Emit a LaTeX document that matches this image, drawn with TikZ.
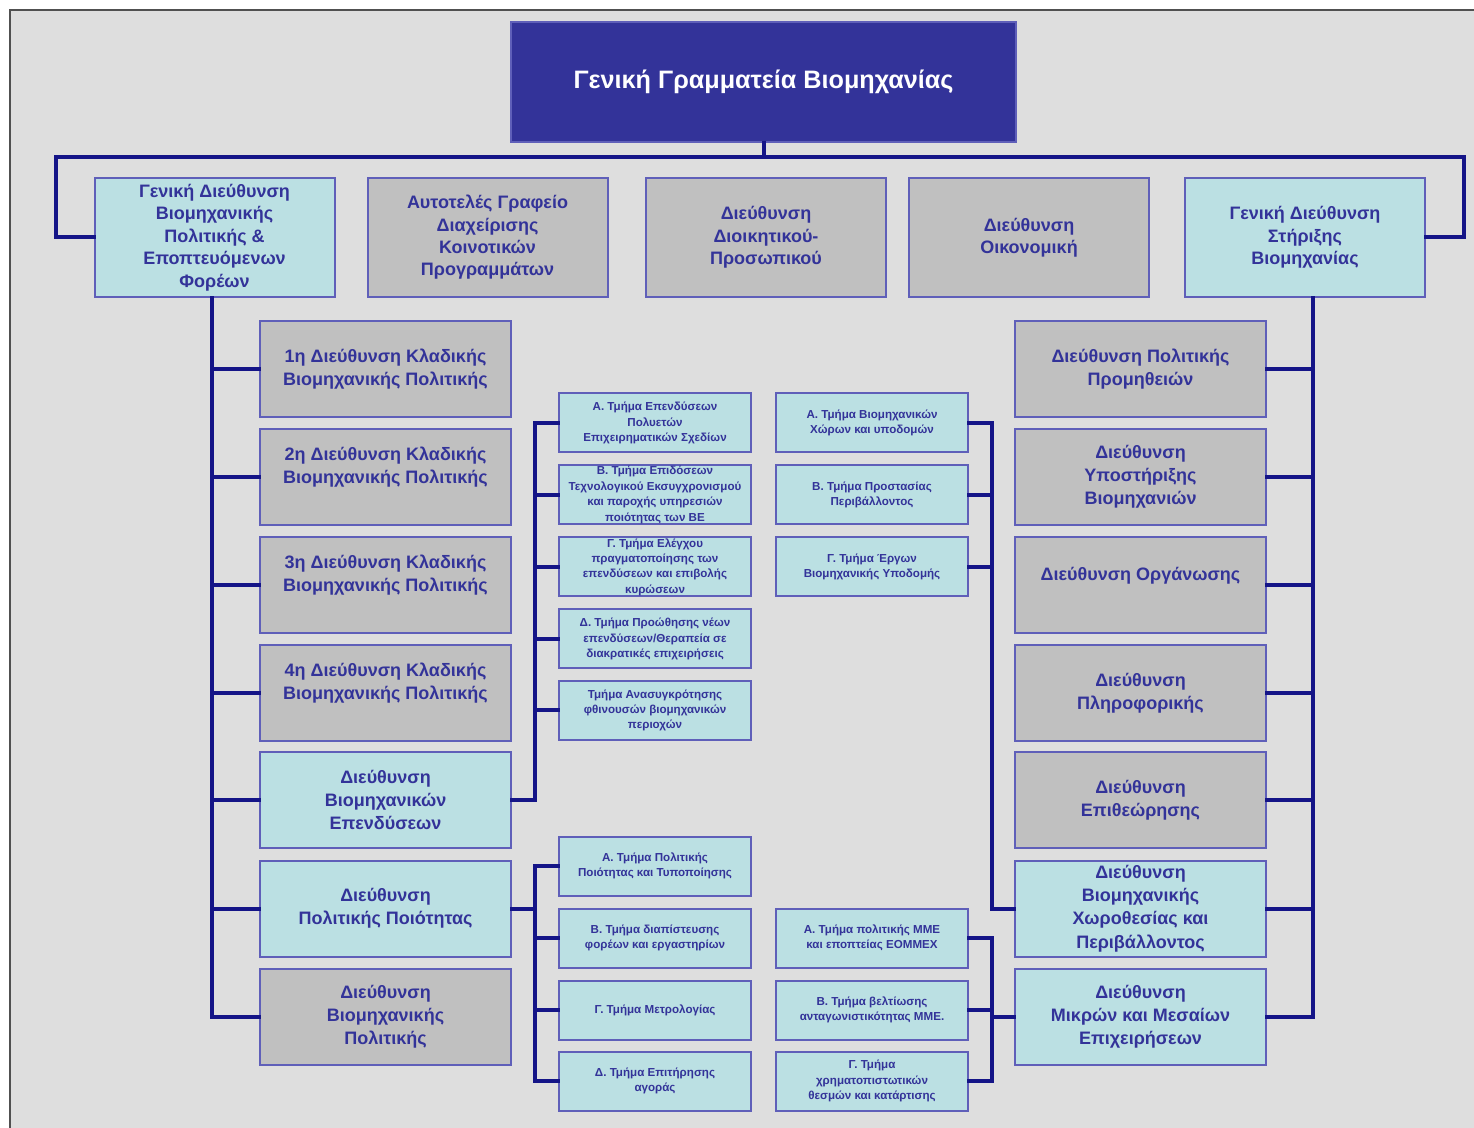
\documentclass[tikz,border=0pt]{standalone}
\usepackage{fontspec}
\setmainfont{Liberation Sans}
\definecolor{bgc}{RGB}{222,222,222}
\definecolor{lblue}{RGB}{187,224,227}
\definecolor{grayf}{RGB}{192,192,192}
\definecolor{navy}{RGB}{51,51,153}
\definecolor{bord}{RGB}{95,95,185}
\definecolor{linec}{RGB}{20,20,135}
\definecolor{txt}{RGB}{51,51,153}
\definecolor{frame}{RGB}{80,80,80}
\begin{document}
\begin{tikzpicture}[x=0.5pt,y=-0.5pt,
  box/.style={rectangle,draw=bord,line width=1pt,align=center,inner sep=0pt,text=txt},
  bluebox/.style={box,fill=lblue},
  graybox/.style={box,fill=grayf},
  rowtwo/.style={minimum width=120pt,minimum height=59.5pt,font=\bfseries\fontsize{9}{11.2}\selectfont},
  colbox/.style={minimum width=125.5pt,minimum height=48pt,font=\bfseries\fontsize{9}{11.6}\selectfont},
  smallbox/.style={bluebox,minimum width=96pt,minimum height=29.5pt,font=\bfseries\fontsize{5.8}{7.7}\selectfont},
  conn/.style={draw=linec,line width=2pt,line join=miter,line cap=rect}]
\useasboundingbox (0,0) rectangle (1474,1128);
\fill[white] (0,0) rectangle (1474,1128);
\filldraw[fill=bgc,draw=frame,line width=1pt] (10,10) rectangle (1500,1150);

% top
\node[box,fill=navy,draw=bord,minimum width=252.5pt,minimum height=60pt,text=white,font=\bfseries\fontsize{12.6}{15}\selectfont] (top) at (763.5,82) {Γενική Γραμματεία Βιομηχανίας};

% row two
\node[bluebox,rowtwo] (A) at (214.5,237.5) {Γενική Διεύθυνση\\Βιομηχανικής\\Πολιτικής \&\\Εποπτευόμενων\\Φορέων};
\node[graybox,rowtwo] (B) at (487.5,237.5) {Αυτοτελές Γραφείο\\Διαχείρισης\\Κοινοτικών\\Προγραμμάτων};
\node[graybox,rowtwo] (C) at (766,237.5) {Διεύθυνση\\Διοικητικού-\\Προσωπικού};
\node[graybox,rowtwo] (D) at (1029,237.5) {Διεύθυνση\\Οικονομική};
\node[bluebox,rowtwo] (E) at (1305,237.5) {Γενική Διεύθυνση\\Στήριξης\\Βιομηχανίας};

% left column
\node[graybox,colbox] (L1) at (385.5,369) {1η Διεύθυνση Κλαδικής\\Βιομηχανικής Πολιτικής};
\node[graybox,colbox] (L2) at (385.5,477) {2η Διεύθυνση Κλαδικής\\Βιομηχανικής Πολιτικής\\\mbox{}};
\node[graybox,colbox] (L3) at (385.5,585) {3η Διεύθυνση Κλαδικής\\Βιομηχανικής Πολιτικής\\\mbox{}};
\node[graybox,colbox] (L4) at (385.5,693) {4η Διεύθυνση Κλαδικής\\Βιομηχανικής Πολιτικής\\\mbox{}};
\node[bluebox,colbox] (L5) at (385.5,800) {Διεύθυνση\\Βιομηχανικών\\Επενδύσεων};
\node[bluebox,colbox] (L6) at (385.5,908.5) {Διεύθυνση\\Πολιτικής Ποιότητας};
\node[graybox,colbox] (L7) at (385.5,1016.5) {Διεύθυνση\\Βιομηχανικής\\Πολιτικής};

% right column
\node[graybox,colbox] (R1) at (1140.5,369) {Διεύθυνση Πολιτικής\\Προμηθειών};
\node[graybox,colbox] (R2) at (1140.5,477) {Διεύθυνση\\Υποστήριξης\\Βιομηχανιών};
\node[graybox,colbox] (R3) at (1140.5,585) {Διεύθυνση Οργάνωσης\\\mbox{}};
\node[graybox,colbox] (R4) at (1140.5,693) {Διεύθυνση\\Πληροφορικής};
\node[graybox,colbox] (R5) at (1140.5,800) {Διεύθυνση\\Επιθεώρησης};
\node[bluebox,colbox] (R6) at (1140.5,908.5) {Διεύθυνση\\Βιομηχανικής\\Χωροθεσίας και\\Περιβάλλοντος};
\node[bluebox,colbox] (R7) at (1140.5,1016.5) {Διεύθυνση\\Μικρών και Μεσαίων\\Επιχειρήσεων};

% small boxes left middle
\node[smallbox] (S1) at (655,423) {Α. Τμήμα Επενδύσεων\\Πολυετών\\Επιχειρηματικών Σχεδίων};
\node[smallbox] (S2) at (655,495) {Β. Τμήμα Επιδόσεων\\Τεχνολογικού Εκσυγχρονισμού\\και παροχής υπηρεσιών\\ποιότητας των ΒΕ};
\node[smallbox] (S3) at (655,567) {Γ. Τμήμα Ελέγχου\\πραγματοποίησης των\\επενδύσεων και επιβολής\\κυρώσεων};
\node[smallbox] (S4) at (655,639) {Δ. Τμήμα Προώθησης νέων\\επενδύσεων/Θεραπεία σε\\διακρατικές επιχειρήσεις};
\node[smallbox] (S5) at (655,710.5) {Τμήμα Ανασυγκρότησης\\φθινουσών βιομηχανικών\\περιοχών};

% small boxes right middle
\node[smallbox] (T1) at (872,423) {Α. Τμήμα Βιομηχανικών\\Χώρων και υποδομών};
\node[smallbox] (T2) at (872,495) {Β. Τμήμα Προστασίας\\Περιβάλλοντος};
\node[smallbox] (T3) at (872,567) {Γ. Τμήμα Έργων\\Βιομηχανικής Υποδομής};

% bottom left middle
\node[smallbox] (U1) at (655,866) {Α. Τμήμα Πολιτικής\\Ποιότητας και Τυποποίησης};
\node[smallbox] (U2) at (655,938) {Β. Τμήμα διαπίστευσης\\φορέων και εργαστηρίων};
\node[smallbox] (U3) at (655,1010) {Γ. Τμήμα Μετρολογίας};
\node[smallbox] (U4) at (655,1081) {Δ. Τμήμα Επιτήρησης\\αγοράς};

% bottom right middle
\node[smallbox] (V1) at (872,938) {Α. Τμήμα πολιτικής ΜΜΕ\\και εποπτείας ΕΟΜΜΕΧ};
\node[smallbox] (V2) at (872,1010) {Β. Τμήμα βελτίωσης\\ανταγωνιστικότητας ΜΜΕ.};
\node[smallbox] (V3) at (872,1081) {Γ. Τμήμα\\χρηματοπιστωτικών\\θεσμών και κατάρτισης};

% coordinates
\coordinate (busL) at (56,157);
\coordinate (busR) at (1464,157);
\coordinate (trL) at (212,0);
\coordinate (trR) at (1313,0);
\coordinate (bx1) at (535,0);
\coordinate (bx2) at (992,0);

% top connectors
\draw[conn] (top.south) -- (top.south |- busL);
\draw[conn] (A.west) -| (busL) -- (busR) |- (E.east);

% left trunk
\draw[conn] (A.south -| trL) |- (L7.west);
\foreach \n in {L1,L2,L3,L4,L5,L6} \draw[conn] (\n.west) -- (\n.west -| trL);

% right trunk
\draw[conn] (E.south -| trR) |- (R7.east);
\foreach \n in {R1,R2,R3,R4,R5,R6} \draw[conn] (\n.east) -- (\n.east -| trR);

% left middle bracket
\draw[conn] (S1.west) -| (L5.east -| bx1) -- (L5.east);
\foreach \n in {S2,S3,S4,S5} \draw[conn] (\n.west) -- (\n.west -| bx1);

% right middle bracket
\draw[conn] (T1.east) -| (R6.west -| bx2) -- (R6.west);
\foreach \n in {T2,T3} \draw[conn] (\n.east) -- (\n.east -| bx2);

% bottom left bracket
\draw[conn] (U1.west) -| (U4.west -| bx1) -- (U4.west);
\draw[conn] (L6.east) -- (L6.east -| bx1);
\foreach \n in {U2,U3} \draw[conn] (\n.west) -- (\n.west -| bx1);

% bottom right bracket
\draw[conn] (V1.east) -| (V3.east -| bx2) -- (V3.east);
\draw[conn] (R7.west) -- (R7.west -| bx2);
\draw[conn] (V2.east) -- (V2.east -| bx2);
\end{tikzpicture}
\end{document}
